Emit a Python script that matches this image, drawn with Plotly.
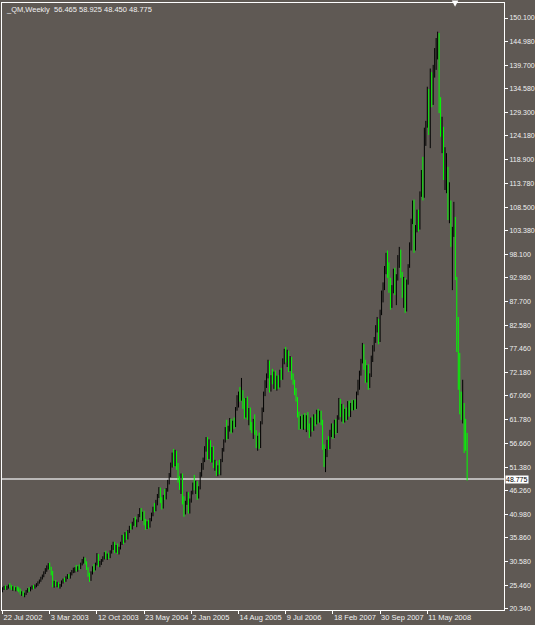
import plotly.graph_objects as go

# ---- data: weekly _QM bars (index 0 = week of 22 Jul 2002) ----
opens = [
 24.3,24.8,25.0,24.7,25.1,25.4,25.1,24.6,24.9,24.6,
 24.8,24.5,24.2,23.6,23.9,23.3,23.6,24.2,24.5,24.3,
 24.9,25.2,24.9,25.4,25.7,26.1,26.5,27.1,27.5,28.2,
 28.9,29.5,29.9,29.1,28.0,25.4,26.0,25.6,25.9,25.1,
 25.3,26.3,26.6,26.4,27.2,27.6,27.1,28.0,28.5,28.8,
 29.1,28.7,29.4,29.2,30.2,30.9,31.2,30.3,29.1,27.6,
 26.6,28.2,29.3,28.9,30.1,32.0,29.9,30.5,30.9,31.5,
 32.4,31.6,32.1,31.7,32.8,34.0,34.6,32.9,34.1,32.7,
 33.6,34.8,36.1,35.0,36.8,35.8,37.3,38.2,38.0,39.1,
 39.8,38.7,39.6,40.8,42.0,40.2,41.2,39.0,38.1,39.2,
 38.4,39.9,41.1,42.4,42.0,43.9,45.2,46.5,44.0,42.6,
 45.0,44.6,46.5,48.3,49.8,52.0,54.2,52.0,54.8,51.3,
 48.5,46.9,49.6,43.7,42.3,43.6,45.5,41.8,44.1,45.8,
 47.6,46.8,48.0,44.9,46.8,50.0,51.9,53.1,55.6,57.6,
 53.8,56.9,53.0,55.2,51.6,52.5,50.0,51.4,50.3,52.8,
 55.2,57.2,59.8,58.1,60.0,61.7,59.4,61.2,60.5,64.2,
 66.8,67.6,66.3,67.6,64.8,62.7,66.2,62.4,63.9,60.0,
 59.4,61.4,59.0,56.2,57.9,56.0,61.0,64.0,67.5,70.1,
 71.4,74.5,68.4,71.2,70.0,72.0,68.9,71.1,69.2,72.4,
 71.0,74.9,77.0,75.0,76.6,72.8,75.3,71.1,70.0,67.7,
 66.3,62.8,60.3,62.2,60.2,62.5,60.6,62.4,60.0,58.4,
 61.9,59.8,62.6,61.0,63.6,61.6,63.3,61.1,55.8,52.2,
 54.8,57.0,55.8,59.2,60.5,58.2,61.4,59.2,62.3,66.0,
 63.0,64.8,61.7,63.8,62.1,65.4,63.1,65.0,64.3,65.8,
 64.5,67.6,70.1,72.2,74.8,78.0,73.5,70.5,73.2,69.1,
 71.6,75.4,77.8,79.6,82.2,83.8,79.2,85.6,89.8,91.2,
 95.0,98.0,93.6,90.4,86.8,91.0,94.6,90.0,93.4,97.6,
 98.8,93.8,89.4,92.8,86.0,92.2,95.6,100.4,105.5,109.6,
 100.0,103.8,107.5,104.0,111.6,116.0,111.0,125.4,126.5,134.0,
 125.5,138.0,131.5,139.0,142.8,144.9,145.1,129.9,125.0,124.0,
 115.2,116.0,117.0,106.3,110.0,101.0,103.5,106.4,93.2,80.0,
 72.0,66.0,63.0,65.5,60.0,56.465,
]
highs = [
 25.0,25.3,25.4,25.3,25.6,25.9,25.5,25.2,25.3,25.0,
 25.2,25.0,24.7,24.1,24.2,23.8,24.4,24.8,25.0,25.1,
 25.4,25.5,25.6,25.9,26.3,26.7,27.3,27.8,28.5,29.2,
 29.8,30.3,30.4,29.5,28.6,26.4,26.6,26.2,26.1,25.7,
 26.5,26.9,27.1,27.4,27.9,27.9,28.3,28.8,29.3,29.4,
 29.9,29.6,30.0,30.4,31.2,31.7,31.5,30.7,29.4,28.2,
 28.5,29.6,30.1,30.4,32.5,32.3,30.8,31.2,31.8,32.7,
 33.0,32.4,32.6,33.1,34.3,35.0,35.0,34.3,34.6,33.9,
 35.0,36.5,36.6,37.1,37.3,37.6,38.5,39.0,39.4,40.2,
 40.5,39.9,41.1,42.4,42.4,41.6,41.8,40.0,39.5,39.8,
 40.2,41.4,42.7,43.5,44.2,45.5,47.0,46.9,44.8,45.3,
 46.6,46.8,48.6,50.1,52.4,54.6,55.4,55.2,55.0,52.3,
 49.4,50.0,50.0,45.0,44.0,46.0,45.9,44.5,46.2,48.0,
 49.7,48.4,48.3,47.2,50.3,52.3,53.5,56.0,58.0,58.0,
 57.5,57.3,55.8,56.0,53.0,52.8,51.8,53.0,53.2,55.6,
 57.5,60.2,61.8,60.5,62.2,62.0,61.6,62.3,64.6,67.2,
 68.0,69.0,71.0,68.3,66.5,66.6,66.9,64.4,64.5,61.3,
 62.0,63.0,59.5,58.3,59.0,61.5,64.5,68.0,70.5,72.0,
 75.0,74.8,71.6,73.0,72.4,72.6,71.5,71.6,72.8,73.2,
 75.3,77.4,77.8,77.2,77.0,75.8,75.6,72.0,70.6,68.8,
 66.8,63.6,62.6,63.0,62.9,63.3,62.8,63.5,61.0,62.3,
 62.5,63.0,63.1,64.0,64.2,63.8,63.8,61.8,56.4,55.4,
 57.4,58.2,59.6,61.0,61.0,61.8,62.0,62.8,66.6,66.4,
 65.3,65.2,64.2,64.5,65.9,66.0,65.5,66.2,66.1,66.3,
 68.0,70.6,72.6,75.2,78.7,78.4,75.0,73.8,74.0,72.0,
 75.9,78.2,80.0,82.6,84.4,84.0,86.0,90.2,92.0,95.6,
 98.5,99.0,96.4,93.0,91.4,95.0,95.2,93.8,98.0,99.8,
 99.2,94.3,93.2,93.0,92.6,96.0,100.8,106.0,110.0,110.2,
 104.6,108.0,108.0,112.0,116.7,119.6,126.0,127.5,135.0,134.5,
 139.0,138.2,139.8,143.5,145.7,147.1,146.8,132.7,128.4,126.2,
 121.7,120.4,117.4,114.0,110.0,104.2,109.7,106.4,93.2,84.4,
 76.5,68.0,70.6,65.5,62.0,58.925,
]
lows = [
 23.9,24.4,24.5,24.4,24.7,24.9,24.4,24.2,24.3,24.1,
 24.2,23.9,23.4,23.1,23.0,22.8,23.3,23.8,24.0,24.1,
 24.5,24.6,24.7,25.0,25.3,25.8,26.2,26.7,27.2,27.9,
 28.4,28.9,28.8,27.6,25.0,24.9,25.2,25.0,24.9,24.7,
 25.1,25.8,26.1,26.2,26.8,26.9,26.9,27.6,28.1,28.2,
 28.5,28.4,28.8,29.0,29.8,30.2,30.0,28.8,27.3,26.2,
 26.4,27.8,28.4,28.7,29.8,29.5,29.4,29.9,30.6,31.1,
 31.2,31.0,31.2,31.4,32.4,33.2,32.5,32.6,32.3,32.2,
 33.3,34.3,34.5,34.8,35.4,35.5,36.9,37.6,37.7,38.5,
 38.3,38.2,39.3,40.4,39.8,39.6,38.6,37.6,37.8,37.9,
 38.1,39.5,40.6,41.5,41.7,43.0,44.6,43.5,42.1,42.3,
 44.2,44.3,46.0,47.6,49.2,51.3,51.4,51.6,50.8,48.0,
 46.4,45.5,43.2,40.5,41.0,43.1,41.2,41.2,43.6,45.4,
 46.3,45.5,44.2,44.5,46.5,49.3,50.8,52.5,54.8,53.0,
 53.2,52.5,52.4,51.2,50.6,49.5,49.4,49.8,49.6,52.5,
 54.8,56.8,57.4,57.6,59.2,58.8,59.0,59.8,60.2,63.8,
 64.5,65.8,66.0,64.2,62.0,62.3,61.8,60.6,59.5,58.9,
 57.6,58.5,55.6,55.0,55.4,55.6,60.8,63.5,67.0,68.8,
 70.9,67.8,68.0,69.6,68.6,68.4,68.2,68.6,68.9,70.5,
 70.6,74.0,74.4,73.4,72.3,72.5,70.6,69.5,67.2,65.8,
 62.3,59.6,59.8,59.7,59.6,59.8,59.1,59.5,57.8,58.1,
 59.2,59.4,60.4,60.8,61.0,61.2,60.6,55.2,51.4,50.3,
 53.6,55.2,55.4,58.0,57.6,57.8,58.6,58.9,61.8,62.4,
 61.4,61.0,61.2,61.6,61.8,62.5,62.4,63.8,63.9,64.0,
 64.2,67.2,68.4,71.5,74.2,72.8,69.9,70.0,68.4,68.8,
 71.2,74.5,76.8,78.7,81.0,78.4,78.9,84.8,87.6,90.3,
 93.8,93.0,89.7,86.0,86.4,89.6,89.2,87.0,92.4,95.2,
 93.0,88.6,86.4,85.3,85.6,91.5,95.2,99.0,104.8,98.5,
 99.0,103.0,103.2,103.6,110.8,110.0,110.6,122.0,126.0,124.4,
 121.5,130.5,131.0,137.0,138.7,141.0,129.2,124.0,120.4,114.5,
 112.3,111.6,105.7,105.0,99.8,90.3,102.0,92.5,76.7,68.4,
 63.0,61.8,61.0,54.5,55.0,48.45,
]
closes = [
 24.8,25.0,24.7,25.1,25.4,25.1,24.6,24.9,24.6,24.8,
 24.5,24.2,23.6,23.9,23.3,23.6,24.2,24.5,24.3,24.9,
 25.2,24.9,25.4,25.7,26.1,26.5,27.1,27.5,28.2,28.9,
 29.5,29.9,29.1,28.0,25.4,26.0,25.6,25.9,25.1,25.3,
 26.3,26.6,26.4,27.2,27.6,27.1,28.0,28.5,28.8,29.1,
 28.7,29.4,29.2,30.2,30.9,31.2,30.3,29.1,27.6,26.6,
 28.2,29.3,28.9,30.1,32.0,29.9,30.5,30.9,31.5,32.4,
 31.6,32.1,31.7,32.8,34.0,34.6,32.9,34.1,32.7,33.6,
 34.8,36.1,35.0,36.8,35.8,37.3,38.2,38.0,39.1,39.8,
 38.7,39.6,40.8,42.0,40.2,41.2,39.0,38.1,39.2,38.4,
 39.9,41.1,42.4,42.0,43.9,45.2,46.5,44.0,42.6,45.0,
 44.6,46.5,48.3,49.8,52.0,54.2,52.0,54.8,51.3,48.5,
 46.9,49.6,43.7,42.3,43.6,45.5,41.8,44.1,45.8,47.6,
 46.8,48.0,44.9,46.8,50.0,51.9,53.1,55.6,57.6,53.8,
 56.9,53.0,55.2,51.6,52.5,50.0,51.4,50.3,52.8,55.2,
 57.2,59.8,58.1,60.0,61.7,59.4,61.2,60.5,64.2,66.8,
 67.6,66.3,67.6,64.8,62.7,66.2,62.4,63.9,60.0,59.4,
 61.4,59.0,56.2,57.9,56.0,61.0,64.0,67.5,70.1,71.4,
 74.5,68.4,71.2,70.0,72.0,68.9,71.1,69.2,72.4,71.0,
 74.9,77.0,75.0,76.6,72.8,75.3,71.1,70.0,67.7,66.3,
 62.8,60.3,62.2,60.2,62.5,60.6,62.4,60.0,58.4,61.9,
 59.8,62.6,61.0,63.6,61.6,63.3,61.1,55.8,52.2,54.8,
 57.0,55.8,59.2,60.5,58.2,61.4,59.2,62.3,66.0,63.0,
 64.8,61.7,63.8,62.1,65.4,63.1,65.0,64.3,65.8,64.5,
 67.6,70.1,72.2,74.8,78.0,73.5,70.5,73.2,69.1,71.6,
 75.4,77.8,79.6,82.2,83.8,79.2,85.6,89.8,91.2,95.0,
 98.0,93.6,90.4,86.8,91.0,94.6,90.0,93.4,97.6,98.8,
 93.8,89.4,92.8,86.0,92.2,95.6,100.4,105.5,109.6,100.0,
 103.8,107.5,104.0,111.6,116.0,111.0,125.4,126.5,134.0,125.5,
 138.0,131.5,139.0,142.8,144.9,145.1,129.9,125.0,128.0,115.2,
 116.0,118.5,106.3,113.5,101.0,103.5,106.4,93.2,80.0,70.5,
 66.0,63.0,68.0,60.0,56.4,48.775,
]

x_tick_index = [0, 32, 64, 96, 128, 160, 192, 224, 256, 288]
x_tick_labels = ["22 Jul 2002", "3 Mar 2003", "12 Oct 2003", "23 May 2004",
                 "2 Jan 2005", "14 Aug 2005", "9 Jul 2006", "18 Feb 2007",
                 "30 Sep 2007", "11 May 2008"]
y_tick_values = [150.100, 144.980, 139.700, 134.580, 129.300, 124.180, 118.900,
                 113.780, 108.500, 103.380, 98.100, 92.980, 87.700, 82.580,
                 77.460, 72.180, 67.060, 61.780, 56.660, 51.380, 46.260,
                 40.980, 35.860, 30.580, 25.460, 20.340]
symbol = "_QM"
period = "Weekly"

assert len(opens) == len(highs) == len(lows) == len(closes)

BG = "#5f5954"
FONT = "Liberation Sans, Arial, sans-serif"
TXT = "#f0f0f0"
FS = 7

idx = list(range(len(closes)))

fig = go.Figure(go.Ohlc(
    x=idx, open=opens, high=highs, low=lows, close=closes,
    increasing=dict(line=dict(color="#000000", width=1)),
    decreasing=dict(line=dict(color="#00ff00", width=1)),
    tickwidth=0, hoverinfo="skip", showlegend=False,
))

last = closes[-1]
fig.add_shape(type="line", xref="paper", x0=0, x1=1, yref="y", y0=last, y1=last,
              line=dict(color="#d8d8d8", width=1.5), layer="below")
fig.add_annotation(xref="paper", x=1, xanchor="left", xshift=1, yref="y", y=last,
                   text=f"{last:.3f}", showarrow=False, bgcolor="#ffffff",
                   font=dict(family=FONT, size=FS, color="#000000"),
                   borderpad=0)
fig.add_annotation(xref="paper", x=0, xanchor="left", xshift=2, yref="paper", y=1,
                   yanchor="top", yshift=0, showarrow=False,
                   text=f"{symbol},{period}  {opens[-1]:.3f} {highs[-1]:.3f} {lows[-1]:.3f} {closes[-1]:.3f}",
                   font=dict(family=FONT, size=7.5, color=TXT))
# chart-shift marker
fig.add_shape(type="path", xref="paper", yref="paper",
              path="M 0.896 1.004 L 0.909 1.004 L 0.9025 0.994 Z",
              fillcolor="#ffffff", line=dict(color="#ffffff", width=0))

fig.update_layout(
    width=535, height=625,
    margin=dict(l=2, r=31, t=3, b=15, autoexpand=False),
    paper_bgcolor=BG, plot_bgcolor=BG,
    font=dict(family=FONT, size=FS, color=TXT),
    xaxis=dict(
        range=[-0.35, 340.0], rangeslider=dict(visible=False),
        tickmode="array", tickvals=x_tick_index, ticktext=x_tick_labels,
        ticks="outside", ticklen=3, tickcolor="#ffffff", tickangle=0,
        ticklabelposition="outside right", automargin=False,
        showgrid=False, zeroline=False,
        showline=True, linecolor="#ffffff", linewidth=1, mirror=True,
        tickfont=dict(family=FONT, size=7.5, color=TXT),
    ),
    yaxis=dict(
        range=[20.0, 153.4], side="right", automargin=False,
        tickmode="array", tickvals=y_tick_values,
        ticktext=[f"{v:.3f}" for v in y_tick_values],
        ticks="outside", ticklen=3, tickcolor="#ffffff",
        showgrid=False, zeroline=False,
        showline=True, linecolor="#ffffff", linewidth=1, mirror=True,
        tickfont=dict(family=FONT, size=FS, color=TXT),
    ),
)

fig.write_html("out.html", config={"displayModeBar": False})
